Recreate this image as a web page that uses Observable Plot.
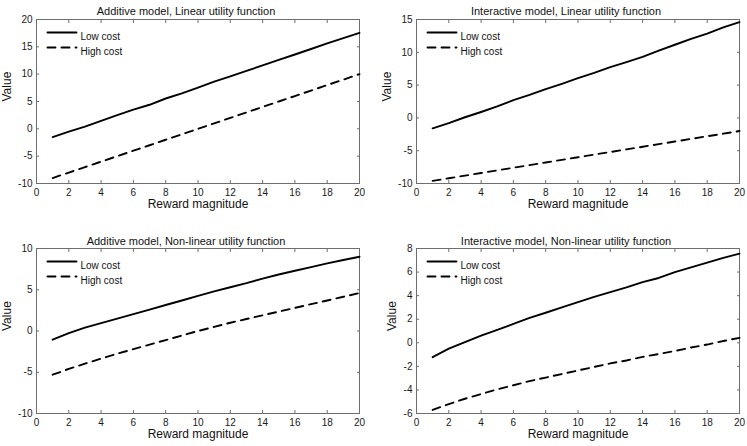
<!DOCTYPE html>
<html>
<head>
<meta charset="utf-8">
<script src="https://cdn.jsdelivr.net/npm/d3@7"></script>
<script src="https://cdn.jsdelivr.net/npm/@observablehq/plot@0.6"></script>
<style>
  body { margin: 0; background: #fff; }
  #wrap { position: relative; width: 747px; height: 446px; background: #fff; overflow: hidden; }
  .panel { position: absolute; }
  .panel svg { max-width: none; }
</style>
</head>
<body>
<div id="wrap"></div>
<script>
// ---------- data ----------
const reward = [1, 2, 3, 4, 5, 6, 7, 8, 9, 10, 11, 12, 13, 14, 15, 16, 17, 18, 19, 20];
const series = ["Low cost", "High cost"];
const titles = [
  "Additive model, Linear utility function",
  "Interactive model, Linear utility function",
  "Additive model, Non-linear utility function",
  "Interactive model, Non-linear utility function"
];
const xLabel = "Reward magnitude";
const yLabel = "Value";
const xTicks = [0, 2, 4, 6, 8, 10, 12, 14, 16, 18, 20];

const addLinLow  = [-1.5, -0.5, 0.4, 1.45, 2.5, 3.5, 4.4, 5.55, 6.5, 7.55, 8.65, 9.6, 10.6, 11.6, 12.6, 13.6, 14.6, 15.65, 16.6, 17.55];
const addLinHigh = [-9, -8, -7, -6, -5, -4, -3, -2, -1, 0, 1, 2, 3, 4, 5, 6, 7, 8, 9, 10];
const intLinLow  = [-1.6, -0.8, 0.1, 0.9, 1.75, 2.7, 3.5, 4.4, 5.2, 6.05, 6.85, 7.75, 8.5, 9.3, 10.25, 11.15, 12.05, 12.85, 13.8, 14.6];
const intLinHigh = [-9.6, -9.2, -8.8, -8.4, -8.0, -7.6, -7.2, -6.8, -6.4, -6.0, -5.6, -5.2, -4.8, -4.4, -4.0, -3.6, -3.2, -2.8, -2.4, -2.0];
const addNlLow   = [-1.05, -0.25, 0.4, 0.95, 1.5, 2.05, 2.6, 3.15, 3.7, 4.25, 4.8, 5.3, 5.8, 6.35, 6.85, 7.3, 7.75, 8.2, 8.6, 9.0];
const addNlHigh  = [-5.3, -4.6, -3.95, -3.35, -2.75, -2.2, -1.65, -1.1, -0.55, 0, 0.5, 1.0, 1.45, 1.9, 2.35, 2.8, 3.25, 3.7, 4.15, 4.6];
const intNlLow   = [-1.22, -0.5, 0.05, 0.6, 1.1, 1.6, 2.12, 2.55, 3.0, 3.45, 3.9, 4.3, 4.7, 5.15, 5.5, 6.0, 6.4, 6.8, 7.2, 7.56];
const intNlHigh  = [-5.7, -5.2, -4.75, -4.35, -3.95, -3.6, -3.25, -2.95, -2.65, -2.35, -2.05, -1.75, -1.5, -1.2, -0.95, -0.7, -0.4, -0.15, 0.15, 0.42];

const yTicksAddLin = [-10, -5, 0, 5, 10, 15, 20];
const yTicksIntLin = [-10, -5, 0, 5, 10, 15];
const yTicksAddNl  = [-10, -5, 0, 5, 10];
const yTicksIntNl  = [-6, -4, -2, 0, 2, 4, 6, 8];

// ---------- layout ----------
const panels = [
  {title: titles[0], low: addLinLow, high: addLinHigh, yTicks: yTicksAddLin,
   left: 0,   top: 0,   width: 373, height: 223, mL: 36, mR: 14, mT: 19, mB: 40, titleDy: -12, ylabDx: -29},
  {title: titles[1], low: intLinLow, high: intLinHigh, yTicks: yTicksIntLin,
   left: 373, top: 0,   width: 374, height: 223, mL: 43, mR: 8,  mT: 19, mB: 40, titleDy: -12, ylabDx: -29},
  {title: titles[2], low: addNlLow,  high: addNlHigh,  yTicks: yTicksAddNl,
   left: 0,   top: 223, width: 373, height: 223, mL: 36, mR: 14, mT: 25, mB: 33, titleDy: -11, ylabDx: -29},
  {title: titles[3], low: intNlLow,  high: intNlHigh,  yTicks: yTicksIntNl,
   left: 373, top: 223, width: 374, height: 223, mL: 43, mR: 8,  mT: 25, mB: 33, titleDy: -11, ylabDx: -24}
];

const font = "'Liberation Sans', Arial, Helvetica, sans-serif";
const axisColor = "#6e6e6e";
const lineShape = {draw(ctx, l) { ctx.moveTo(0, 0); ctx.lineTo(0, -l); }};
const fmt = d => String(d);
const blank = () => "";
const tick = 3;

const wrap = document.getElementById("wrap");

for (const p of panels) {
  const low = reward.map((x, i) => ({x, v: p.low[i]}));
  const high = reward.map((x, i) => ({x, v: p.high[i]}));
  const yDomain = [p.yTicks[0], p.yTicks[p.yTicks.length - 1]];

  const chart = Plot.plot({
    width: p.width,
    height: p.height,
    marginLeft: p.mL,
    marginRight: p.mR,
    marginTop: p.mT,
    marginBottom: p.mB,
    style: {fontFamily: font, fontSize: "10px", color: "#000", background: "transparent"},
    x: {domain: [0, 20]},
    y: {domain: yDomain},
    marks: [
      Plot.frame({stroke: axisColor, strokeWidth: 1}),
      // tick labels
      Plot.axisX(xTicks, {anchor: "bottom", tickSize: 0, tickPadding: 5, tickFormat: fmt, label: null, fontSize: 10, fill: "#1a1a1a"}),
      Plot.axisY(p.yTicks, {anchor: "left", tickSize: 0, tickPadding: 4, tickFormat: fmt, label: null, fontSize: 10, fill: "#1a1a1a"}),
      // inward tick marks on all four sides
      Plot.axisX(xTicks, {anchor: "bottom", tickSize: tick, dy: -tick, tickFormat: blank, label: null, stroke: axisColor}),
      Plot.axisX(xTicks, {anchor: "top", tickSize: tick, dy: tick, tickFormat: blank, label: null, stroke: axisColor}),
      Plot.axisY(p.yTicks, {anchor: "left", tickSize: tick, dx: tick, tickFormat: blank, label: null, stroke: axisColor}),
      Plot.axisY(p.yTicks, {anchor: "right", tickSize: tick, dx: -tick, tickFormat: blank, label: null, stroke: axisColor}),
      // series
      Plot.line(low, {x: "x", y: "v", stroke: "#000", strokeWidth: 1.9}),
      Plot.line(high, {x: "x", y: "v", stroke: "#000", strokeWidth: 1.9, strokeDasharray: "8,6"}),
      // title and axis labels
      Plot.text([p.title], {frameAnchor: "top", dx: -12, dy: p.titleDy, fontSize: 11, fill: "#111"}),
      Plot.text([xLabel], {frameAnchor: "bottom", dy: 24, fontSize: 12, fill: "#111"}),
      Plot.text([yLabel], {frameAnchor: "left", dx: p.ylabDx, rotate: -90, fontSize: 12, fill: "#111"}),
      // legend
      Plot.vector([series[0]], {frameAnchor: "top-left", dx: 11, dy: 13, length: 29, rotate: 90, anchor: "start", shape: lineShape, stroke: "#000", strokeWidth: 1.9}),
      Plot.vector([series[1]], {frameAnchor: "top-left", dx: 11, dy: 28, length: 29, rotate: 90, anchor: "start", shape: lineShape, stroke: "#000", strokeWidth: 1.9, strokeDasharray: "8,6"}),
      Plot.text([series[0]], {frameAnchor: "top-left", dx: 44, dy: 13, textAnchor: "start", fontSize: 10, fill: "#111"}),
      Plot.text([series[1]], {frameAnchor: "top-left", dx: 44, dy: 28, textAnchor: "start", fontSize: 10, fill: "#111"})
    ]
  });

  const div = document.createElement("div");
  div.className = "panel";
  div.style.left = p.left + "px";
  div.style.top = p.top + "px";
  div.style.width = p.width + "px";
  div.style.height = p.height + "px";
  div.appendChild(chart);
  wrap.appendChild(div);
}
</script>
</body>
</html>
